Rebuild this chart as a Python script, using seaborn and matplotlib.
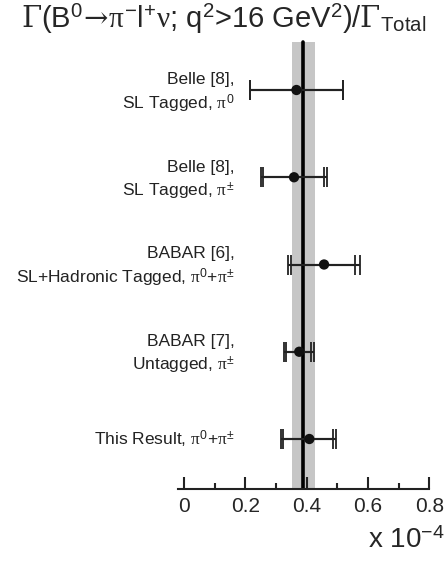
import matplotlib
matplotlib.use("Agg")
import matplotlib.pyplot as plt
import seaborn as sns
import pandas as pd

# measurements (units of 1e-4)
labels = [
    "Belle [8],\nSL Tagged, $\\pi^{\\mathsf{0}}$",
    "Belle [8],\nSL Tagged, $\\pi^{\\mathsf{\\pm}}$",
    "BABAR [6],\nSL+Hadronic Tagged, $\\pi^{\\mathsf{0}}$+$\\pi^{\\mathsf{\\pm}}$",
    "BABAR [7],\nUntagged, $\\pi^{\\mathsf{\\pm}}$",
    "This Result, $\\pi^{\\mathsf{0}}$+$\\pi^{\\mathsf{\\pm}}$",
]
central = [0.367, 0.359, 0.457, 0.376, 0.409]
stat_lo = [0.215, 0.258, 0.350, 0.333, 0.324]
stat_hi = [0.520, 0.457, 0.558, 0.415, 0.485]
tot_lo = [0.215, 0.251, 0.340, 0.326, 0.317]
tot_hi = [0.520, 0.465, 0.574, 0.424, 0.495]
average = 0.387
band = (0.353, 0.426)

df = pd.DataFrame({"label": labels, "value": central, "pos": range(len(labels))})

sns.set_style("white")
plt.rcParams["font.family"] = ["Liberation Sans", "DejaVu Sans"]
plt.rcParams["mathtext.fontset"] = "custom"
plt.rcParams["mathtext.rm"] = "DejaVu Serif"
plt.rcParams["mathtext.it"] = "Liberation Serif"
plt.rcParams["mathtext.sf"] = "Liberation Sans"

fig = plt.figure(figsize=(4.47, 5.62), dpi=100)
ax = fig.add_axes([0, 0.1299, 1, 0.8701])

# average line and band
ax.axvspan(band[0], band[1], ymin=0, ymax=0.915, color="#c6c6c6", lw=0, zorder=0)
ax.axvline(average, ymin=0, ymax=0.915, color="black", lw=2.6, zorder=1)

# error bars: total, then statistical caps
lo_tot = df["value"] - pd.Series(tot_lo)
hi_tot = pd.Series(tot_hi) - df["value"]
lo_st = df["value"] - pd.Series(stat_lo)
hi_st = pd.Series(stat_hi) - df["value"]
ax.errorbar(df["value"], df["pos"], xerr=[lo_tot, hi_tot], fmt="none",
            ecolor="#222222", elinewidth=1.5, capsize=7.5, capthick=1.3, zorder=2)
ax.errorbar(df["value"], df["pos"], xerr=[lo_st, hi_st], fmt="none",
            ecolor="#222222", elinewidth=1.5, capsize=7.5, capthick=1.3, zorder=2)
sns.scatterplot(data=df, x="value", y="pos", ax=ax, color="#111111", s=55,
                edgecolor="none", zorder=3, legend=False)

for _, r in df.iterrows():
    dy = 0.04 if "\n" in r["label"] else 0.0
    ax.text(0.166, r["pos"] + dy, r["label"], ha="right", va="center",
            fontsize=12.5, linespacing=1.35, color="#222222")

ax.set_xlim(-0.600, 0.858)
ax.set_ylim(4.573, -1.0315)
ax.set_xlabel("")
ax.set_ylabel("")
ax.set_yticks([])
for s in ["top", "left", "right"]:
    ax.spines[s].set_visible(False)
ax.spines["bottom"].set_bounds(-0.02, 0.8)
ax.spines["bottom"].set_linewidth(1.5)
ax.spines["bottom"].set_color("#222222")
ax.set_xticks([0, 0.2, 0.4, 0.6, 0.8])
ax.set_xticklabels(["0", "0.2", "0.4", "0.6", "0.8"])
ax.set_xticks([0.1, 0.3, 0.5, 0.7], minor=True)
ax.tick_params(axis="x", which="major", direction="in", length=9, width=1.5,
               labelsize=15, pad=6, bottom=True, color="#222222")
ax.tick_params(axis="x", which="minor", direction="in", length=4.5, width=1.5,
               bottom=True, color="#222222")
ax.patch.set_alpha(0)

fig.text(0.5, 0.966,
         "$\\Gamma$(B$^{\\mathsf{0}}\\!\\rightarrow\\!\\pi^{\\mathsf{-}}$l$^{\\mathsf{+}}\\nu$; "
         "q$^{\\mathsf{2}}$>16 GeV$^{\\mathsf{2}}$)/$\\Gamma_{\\mathsf{Total}}$",
         ha="center", va="center", fontsize=21)
fig.text(0.995, 0.038, "x 10$^{\\mathsf{-4}}$", ha="right", va="center", fontsize=20)

fig.savefig("out.png", dpi=100)
